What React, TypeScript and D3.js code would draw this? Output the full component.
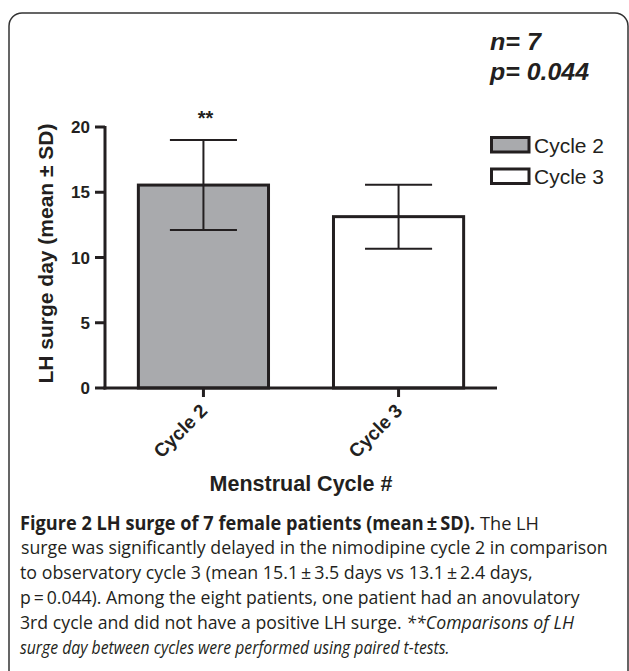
import React from "react";
import * as d3 from "d3";

const categories = ["Cycle 2", "Cycle 3"];
const means = [15.55, 13.13];
const sds = [3.45, 2.45];
const fills = ["#a9aaad", "#ffffff"];
const yTicks = [0, 5, 10, 15, 20];
const legendLabels = ["Cycle 2", "Cycle 3"];
const statLines = ["n= 7", "p= 0.044"];
const statWidths = [51, 99];

// caption lines: segments (text, style), start x and total target width
const captionLines = [
  [
    { t: "Figure 2 LH surge of 7 female patients (mean\u2009\u00b1\u2009SD). ", w: "bold" },
    { t: "The LH", w: "normal" },
  ],
  [{ t: "surge was significantly delayed in the nimodipine cycle 2 in comparison", w: "normal" }],
  [{ t: "to observatory cycle 3 (mean 15.1\u2009\u00b1\u20093.5 days vs 13.1\u2009\u00b1\u20092.4 days,", w: "normal" }],
  [{ t: "p\u2009=\u20090.044). Among the eight patients, one patient had an anovulatory", w: "normal" }],
  [
    { t: "3rd cycle and did not have a positive LH surge. ", w: "normal" },
    { t: "**Comparisons of LH", w: "italic" },
  ],
  [{ t: "surge day between cycles were performed using paired t-tests.", w: "italic" }],
];
const captionX = [20, 21, 20, 20, 20, 20];
const captionWidths = [519, 587, 513, 560, 554, 430];

const INK = "#231f20";
const SANS = "'Liberation Sans', Arial, Helvetica, sans-serif";
const CAP_FONT = "'Open Sans', 'Noto Sans', sans-serif";
const CAP_SIZE = 19;

let measureCtx: CanvasRenderingContext2D | null = null;
function measure(text: string, weight: string, style: string, size: number, family: string) {
  if (!measureCtx) {
    const c = document.createElement("canvas");
    measureCtx = c.getContext("2d");
  }
  if (!measureCtx) return text.length * size * 0.5;
  measureCtx.font = `${style} ${weight} ${size}px ${family}`;
  return measureCtx.measureText(text).width;
}

export default function App() {
  const y = d3.scaleLinear().domain([0, 20]).range([388, 127]);
  const x = d3
    .scaleBand<string>()
    .domain(categories)
    .range([105, 497])
    .paddingInner(0.333)
    .paddingOuter(0.171);
  const bw = x.bandwidth();

  return (
    <svg width={629} height={671} style={{ position: "absolute", left: 0, top: 0 }}>
      <rect x={0} y={0} width={629} height={671} fill="#fff" />
      <rect x={9} y={13} width={619} height={720} rx={13} ry={13} fill="none" stroke="#333" strokeWidth={1.5} />

      {/* stats */}
      {statLines.map((s, i) => {
        const nat = measure(s, "bold", "italic", 23, SANS);
        const sx = statWidths[i] / nat;
        return (
          <text
            key={s}
            transform={`translate(490,${50 + i * 30}) scale(${sx},1)`}
            fontFamily={SANS}
            fontWeight="bold"
            fontStyle="italic"
            fontSize={23}
            fill={INK}
          >
            {s}
          </text>
        );
      })}

      {/* bars */}
      {categories.map((c, i) => {
        const x0 = x(c)!;
        const cx = x0 + bw / 2;
        const top = y(means[i]);
        const hi = y(means[i] + sds[i]);
        const lo = y(means[i] - sds[i]);
        const capHalf = bw / 4 + 1;
        return (
          <g key={c}>
            <rect x={x0} y={top} width={bw} height={y(0) - top} fill={fills[i]} stroke={INK} strokeWidth={3} />
            <line x1={cx} x2={cx} y1={hi} y2={lo} stroke={INK} strokeWidth={2} />
            <line x1={cx - capHalf} x2={cx + capHalf} y1={hi} y2={hi} stroke={INK} strokeWidth={2} />
            <line x1={cx - capHalf} x2={cx + capHalf} y1={lo} y2={lo} stroke={INK} strokeWidth={2} />
            <line x1={cx} x2={cx} y1={y(0)} y2={y(0) + 9} stroke={INK} strokeWidth={3} />
            <text
              transform={`translate(${cx + 5},${y(0) + 24}) rotate(-45)`}
              textAnchor="end"
              fontFamily={SANS}
              fontWeight="bold"
              fontSize={19}
              fill={INK}
            >
              {c}
            </text>
          </g>
        );
      })}

      {/* significance */}
      <text x={x(categories[0])! + bw / 2 + 2} y={125} textAnchor="middle" fontFamily={SANS} fontWeight="bold" fontSize={20} fill={INK}>
        **
      </text>

      {/* y axis */}
      <line x1={105} x2={105} y1={y(20) - 1} y2={y(0) + 1.5} stroke={INK} strokeWidth={3} />
      {yTicks.map((t) => (
        <g key={t}>
          <line x1={95} x2={105} y1={y(t)} y2={y(t)} stroke={INK} strokeWidth={3} />
          <text x={90} y={y(t) + 6} textAnchor="end" fontFamily={SANS} fontWeight="bold" fontSize={17} fill={INK}>
            {t}
          </text>
        </g>
      ))}
      {/* x axis */}
      <line x1={103.5} x2={497} y1={y(0)} y2={y(0)} stroke={INK} strokeWidth={3} />

      <text
        transform={`translate(53,${(y(0) + y(20)) / 2 - 4}) rotate(-90)`}
        textAnchor="middle"
        fontFamily={SANS}
        fontWeight="bold"
        fontSize={21}
        fill={INK}
      >
        LH surge day (mean ± SD)
      </text>
      <text x={(105 + 497) / 2} y={491} textAnchor="middle" fontFamily={SANS} fontWeight="bold" fontSize={21.5} fill={INK}>
        Menstrual Cycle #
      </text>

      {/* legend */}
      {legendLabels.map((l, i) => (
        <g key={l}>
          <rect x={491.5} y={137.5 + i * 31.5} width={37.5} height={14.5} fill={fills[i]} stroke={INK} strokeWidth={3} />
          <text x={534} y={152.5 + i * 31} fontFamily={SANS} fontSize={21} fill={INK}>
            {l}
          </text>
        </g>
      ))}

      {/* caption */}
      {captionLines.map((line, i) => {
        const segs = line.map((seg) => {
          const weight = seg.w === "bold" ? "bold" : "normal";
          const style = seg.w === "italic" ? "italic" : "normal";
          return { ...seg, weight, style, nat: measure(seg.t, weight, style, CAP_SIZE, CAP_FONT) };
        });
        const total = segs.reduce((a, s) => a + s.nat, 0);
        const sx = captionWidths[i] / total;
        let cur = captionX[i];
        return segs.map((seg, j) => {
          const x0 = cur;
          cur += seg.nat * sx;
          return (
            <text
              key={`${i}-${j}`}
              transform={`translate(${x0},${529.5 + i * 24.9}) scale(${sx},1)`}
              fontFamily={CAP_FONT}
              fontSize={CAP_SIZE}
              fontWeight={seg.weight}
              fontStyle={seg.style}
              fill={INK}
            >
              {seg.t}
            </text>
          );
        });
      })}
    </svg>
  );
}
